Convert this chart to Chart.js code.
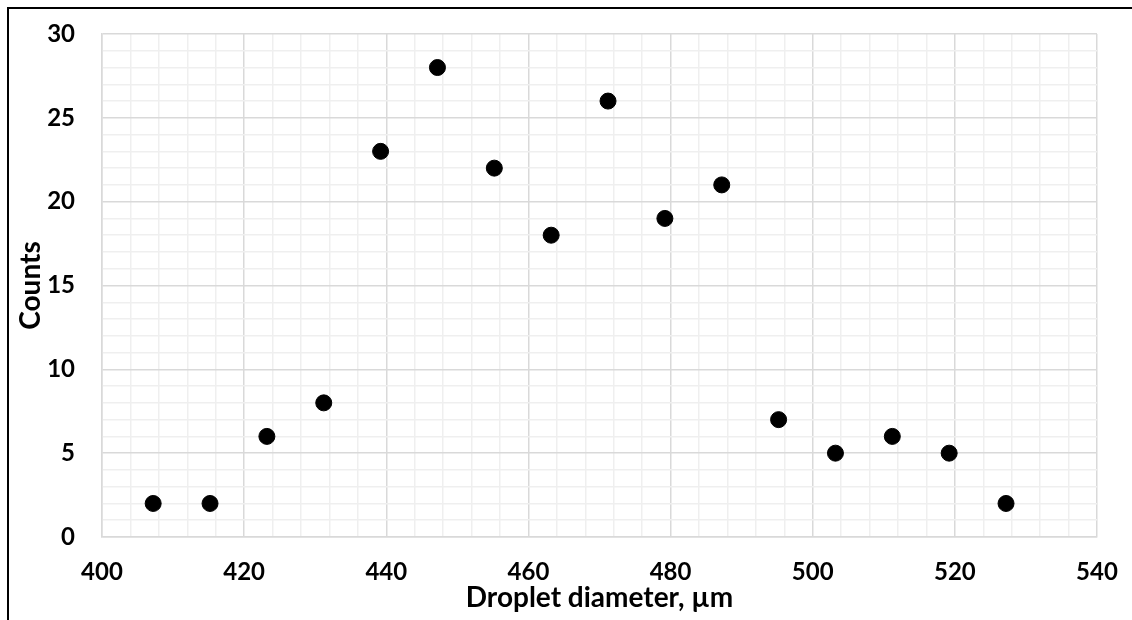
<!DOCTYPE html>
<html>
<head>
<meta charset="utf-8">
<script src="https://cdn.jsdelivr.net/npm/chart.js@4"></script>
<style>
  body { margin: 0; background: #fff; }
  #wrap { position: relative; width: 1132px; height: 620px; }
  #frame { position: absolute; left: 7px; top: 7px; right: 0; bottom: 0; border-top: 2px solid #000; border-left: 2px solid #000; pointer-events: none; }
</style>
</head>
<body>
<div id="wrap">
  <canvas id="myChart" width="1132" height="620"></canvas>
  <div id="frame"></div>
</div>
<script>
// droplet size data
const diameters = [407.2, 415.2, 423.2, 431.2, 439.2, 447.2, 455.2, 463.2, 471.2, 479.2, 487.2, 495.2, 503.2, 511.2, 519.2, 527.2];
const counts = [2, 2, 6, 8, 23, 28, 22, 18, 26, 19, 21, 7, 5, 6, 5, 2];

const xMin = 400, xMax = 540, xLabelStep = 20, xMinorStep = 4;
const yMin = 0, yMax = 30, yLabelStep = 5, yMinorStep = 1;

const majorColor = '#d9d9d9';
const minorColor = '#efefef';
const fontFamily = 'Lato, "Open Sans", sans-serif';

const points = diameters.map((d, i) => ({ x: d, y: counts[i] }));

const ctx = document.getElementById('myChart').getContext('2d');

new Chart(ctx, {
    type: 'scatter',
    data: {
        datasets: [{
            label: 'Counts',
            data: points,
            backgroundColor: '#000',
            borderColor: '#000',
            pointRadius: 8,
            pointHoverRadius: 8
        }]
    },
    options: {
        responsive: false,
        animation: false,
        layout: { padding: { left: 10, top: 34, right: 35, bottom: 5 } },
        plugins: {
            legend: { display: false },
            tooltip: { enabled: false }
        },
        scales: {
            x: {
                type: 'linear',
                min: xMin,
                max: xMax,
                afterFit: (scale) => {
                    scale.height = 78;
                    scale.paddingLeft = 0;
                    scale.paddingRight = 0;
                },
                ticks: {
                    stepSize: xMinorStep,
                    autoSkip: false,
                    maxRotation: 0,
                    padding: 21,
                    color: '#000',
                    font: { family: fontFamily, size: 24, weight: 'bold' },
                    callback: (v) => (v % xLabelStep === 0 ? v : '')
                },
                grid: {
                    drawTicks: false,
                    color: (c) => (c.tick && c.tick.value % xLabelStep === 0 ? majorColor : minorColor),
                    lineWidth: 1.5
                },
                border: { color: majorColor, width: 1.5 },
                title: {
                    display: true,
                    text: 'Droplet diameter, µm',
                    color: '#000',
                    font: { family: fontFamily, size: 28, weight: 'bold' },
                    padding: { top: 0, bottom: 0 }
                }
            },
            y: {
                min: yMin,
                max: yMax,
                afterFit: (scale) => {
                    scale.width = 92;
                    scale.paddingTop = 0;
                    scale.paddingBottom = 0;
                },
                ticks: {
                    stepSize: yMinorStep,
                    autoSkip: false,
                    padding: 27,
                    color: '#000',
                    font: { family: fontFamily, size: 24, weight: 'bold' },
                    callback: (v) => (v % yLabelStep === 0 ? v : '')
                },
                grid: {
                    drawTicks: false,
                    color: (c) => (c.tick && c.tick.value % yLabelStep === 0 ? majorColor : minorColor),
                    lineWidth: 1.5
                },
                border: { color: majorColor, width: 1.5 },
                title: {
                    display: true,
                    text: 'Counts',
                    color: '#000',
                    font: { family: fontFamily, size: 28, weight: 'bold' },
                    padding: { top: 4, bottom: 0 }
                }
            }
        }
    }
});
</script>
</body>
</html>
